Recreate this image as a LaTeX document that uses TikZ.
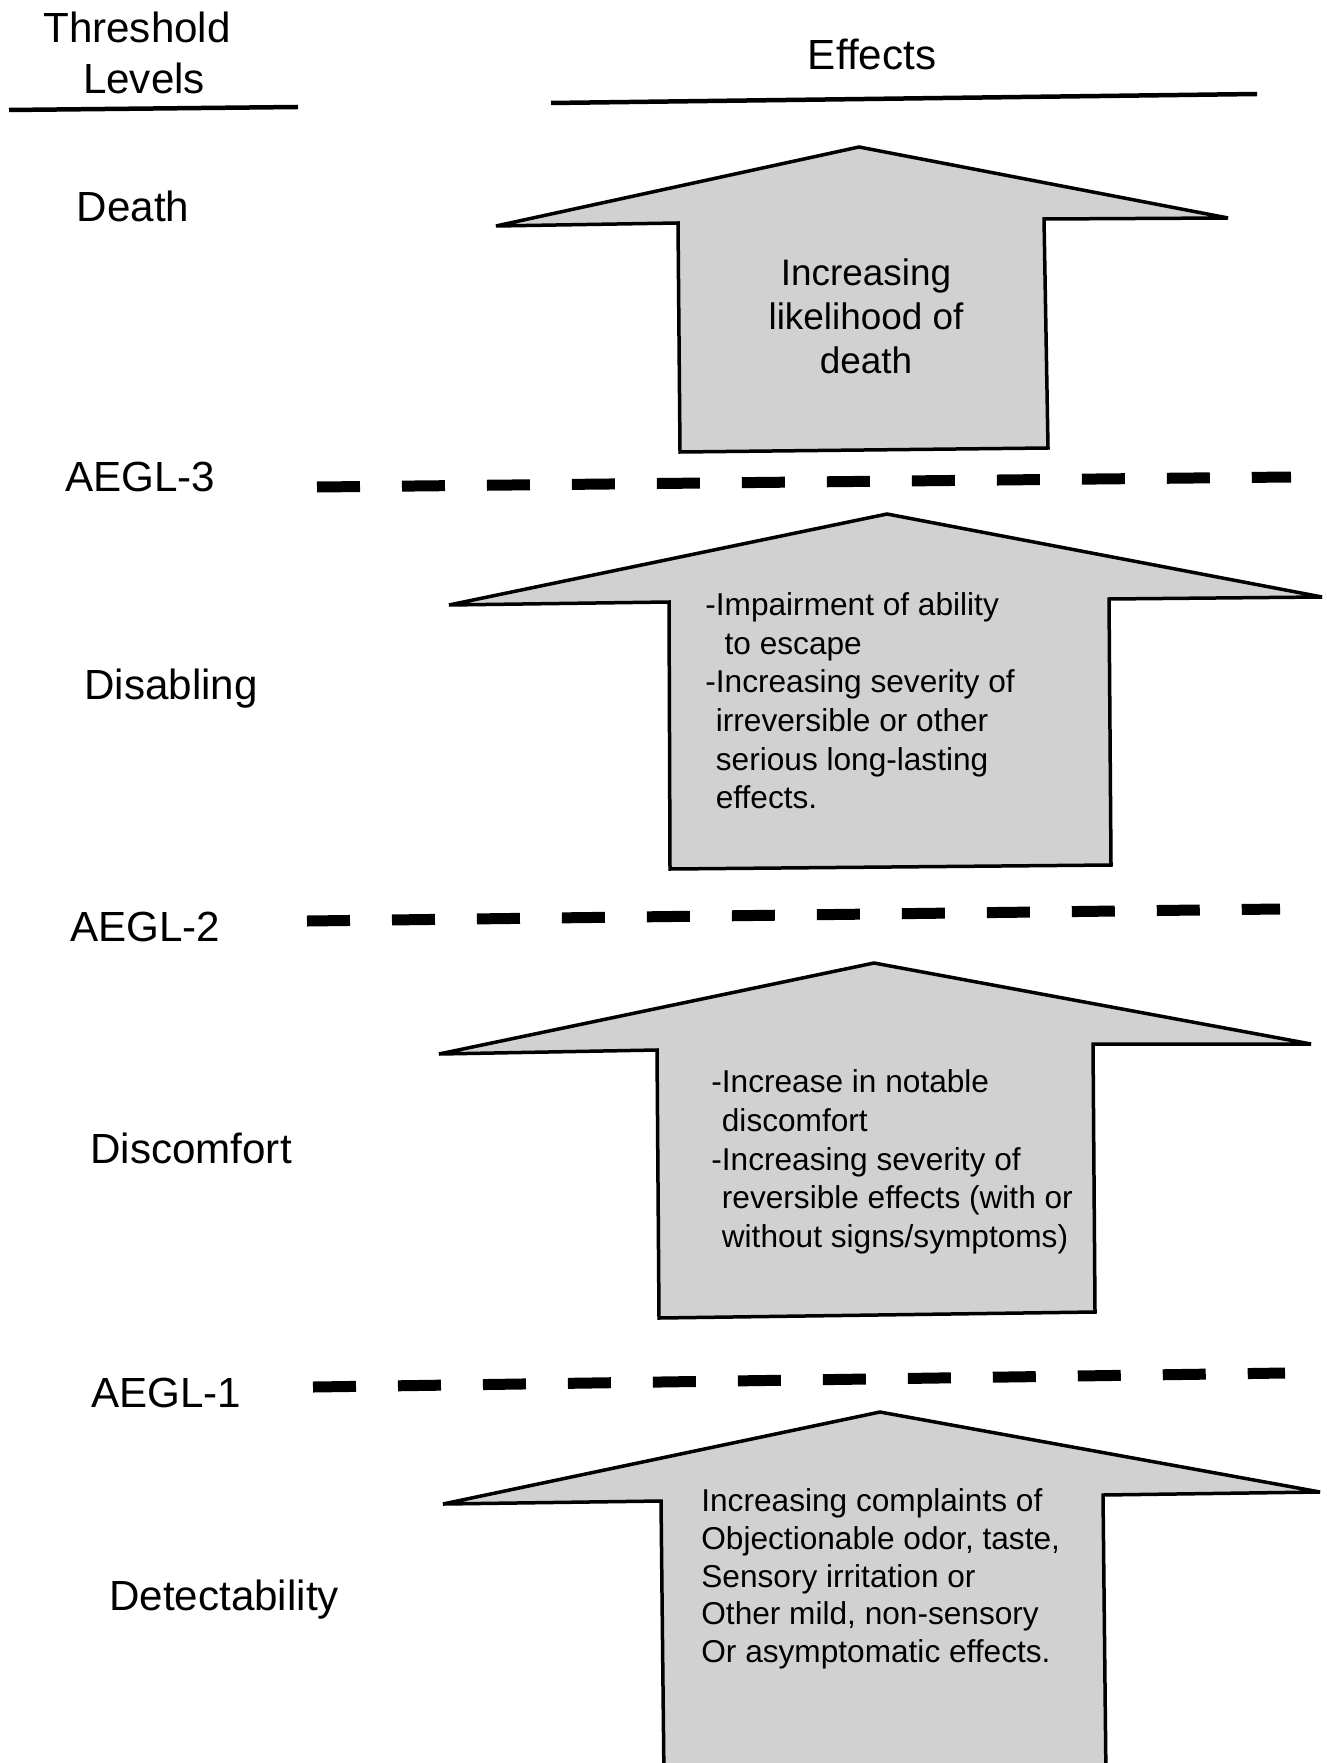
\documentclass[tikz,border=0pt]{standalone}
\usepackage{fontspec}
\setmainfont{Liberation Sans}
\usetikzlibrary{calc}

\begin{document}
\begin{tikzpicture}[x=0.02cm,y=-0.02cm,
	effectarrow/.style={draw=black,line width=0.07cm,fill=black!18,line join=miter},
	levelline/.style={line width=0.22cm,dash pattern=on 0.86cm off 0.84cm},
	headrule/.style={line width=0.09cm},
	heading/.style={font=\fontsize{24}{29}\selectfont,align=center,inner sep=0pt},
	levelname/.style={font=\fontsize{24}{29}\selectfont,inner sep=0pt,anchor=base},
	effecttext/.style={font=\fontsize{18}{22}\selectfont,align=left,inner sep=0pt,anchor=west}]
	
	\useasboundingbox (0,0) rectangle (1327,1763);
	
	% column headings
	\node[heading] (thresh) at (137,53) {Threshold\\\hspace*{8pt}Levels};
	\node[heading,anchor=base] (effects) at (872,70) {Effects};
	\coordinate (threshL) at (9,110);
	\coordinate (threshR) at (298,107);
	\coordinate (effectsL) at (551,103);
	\coordinate (effectsR) at (1257,94);
	\draw[headrule] (threshL)--(threshR);
	\draw[headrule] (effectsL)--(effectsR);
	
	% threshold levels
	\node[levelname] (death) at (133,222) {Death};
	\node[levelname] (aegl3) at (140,491) {AEGL-3};
	\node[levelname] (disab) at (171,699) {Disabling};
	\node[levelname] (aegl2) at (145,941) {AEGL-2};
	\node[levelname] (discom) at (191,1163) {Discomfort};
	\node[levelname] (aegl1) at (166,1407) {AEGL-1};
	\node[levelname] (detect) at (224,1610) {Detectability};
	
	% dashed level lines
	\coordinate (l3L) at (317,487);
	\coordinate (l3R) at (1291,477);
	\coordinate (l2L) at (307,921);
	\coordinate (l2R) at (1280,909);
	\coordinate (l1L) at (313,1387);
	\coordinate (l1R) at (1285,1373);
	\draw[levelline] (l3L)--(l3R);
	\draw[levelline] (l2L)--(l2R);
	\draw[levelline] (l1L)--(l1R);
	
	% effect arrows
	\draw[effectarrow] (859,147)--(1228,218)--(1044,219)--(1048,448)
		--(680,452)--(678,223)--(496,226)--cycle;
	\draw[effectarrow] (887,514)--(1322,597)--(1109,599)--(1111,865)
		--(670,869)--(669,602)--(449,605)--cycle;
	\draw[effectarrow] (874,963)--(1311,1044)--(1093,1044)--(1095,1312)
		--(659,1318)--(657,1050)--(439,1054)--cycle;
	\draw[effectarrow] (880,1412)--(1320,1492)--(1103,1495)--(1106,1780)
		--(664,1780)--(661,1501)--(443,1504)--cycle;
	
	% effect texts
	\node[effecttext,font=\fontsize{21}{25}\selectfont,align=center,anchor=center]
		(t4) at (866,316) {Increasing\\likelihood of\\death};
	\node[effecttext] (t3) at (705,701) {-Impairment of ability\\
		\phantom{-} to escape\\
		-Increasing severity of\\
		\phantom{-}irreversible or other\\
		\phantom{-}serious long-lasting\\
		\phantom{-}effects.};
	\node[effecttext] (t2) at (711,1162) {-Increase in notable\\
		\phantom{-}discomfort\\
		-Increasing severity of\\
		\phantom{-}reversible effects (with or\\
		\phantom{-}without signs/symptoms)};
	\node[effecttext,font=\fontsize{18}{21.5}\selectfont] (t1) at (701,1579) {Increasing complaints of\\
		Objectionable odor, taste,\\
		Sensory irritation or\\
		Other mild, non-sensory\\
		Or asymptomatic effects.};
	
\end{tikzpicture}
\end{document}
